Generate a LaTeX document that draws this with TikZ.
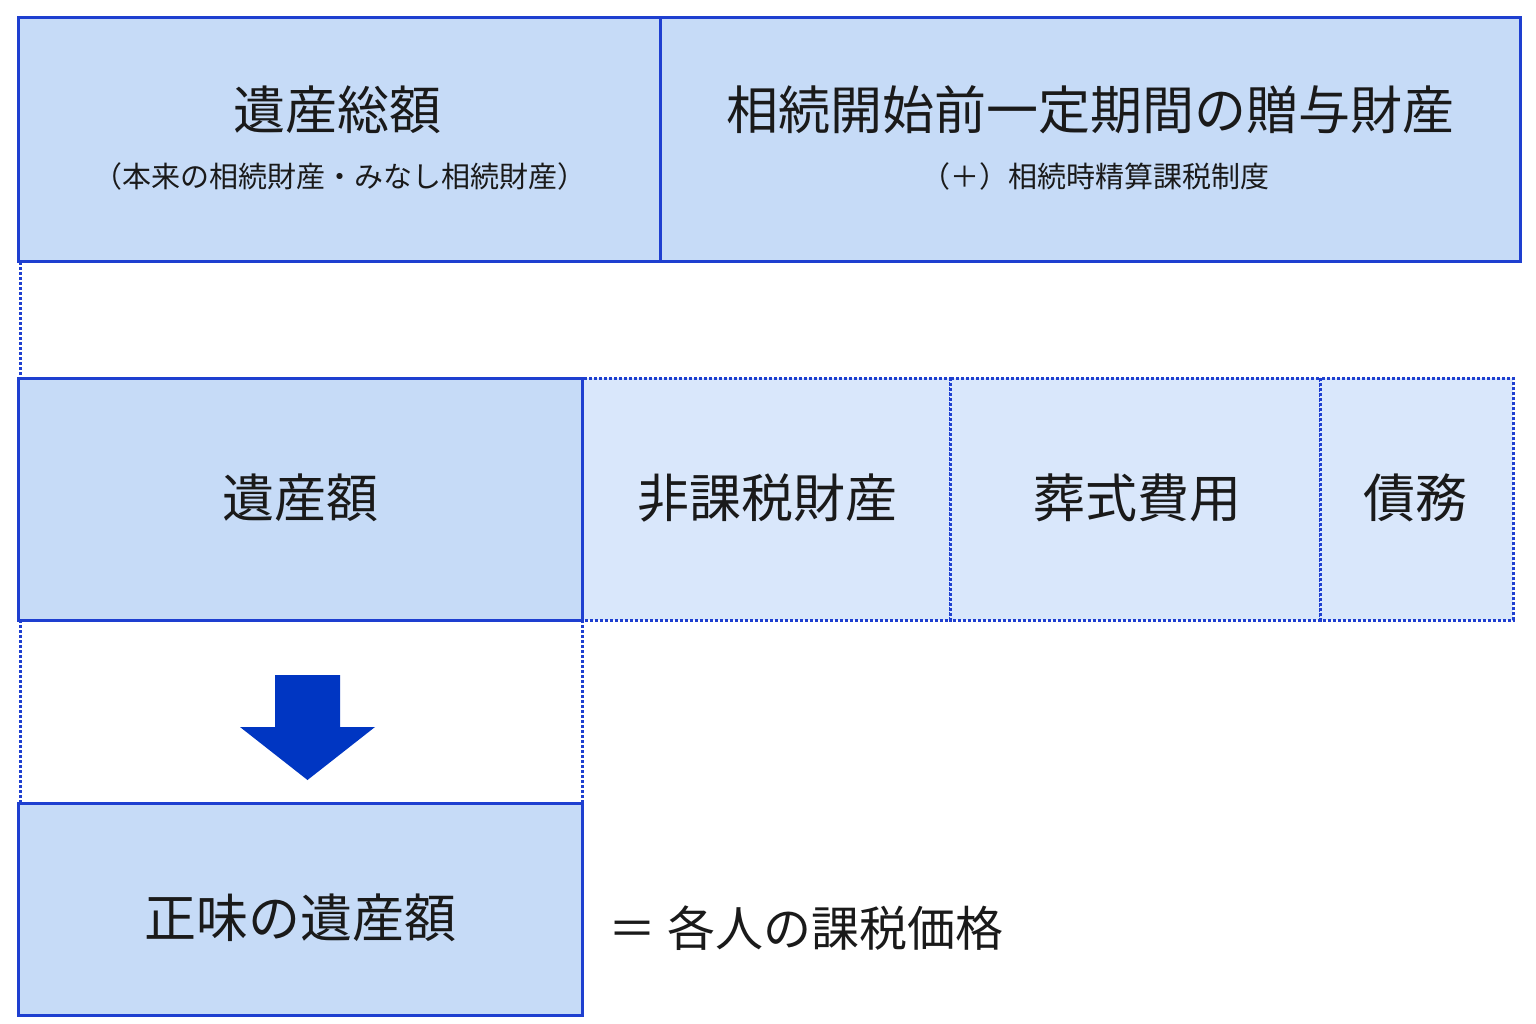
\documentclass[tikz,border=0pt]{standalone}
\usepackage{fontspec}
\setmainfont{Noto Sans CJK JP}
\definecolor{bd}{HTML}{1E3FD0}
\definecolor{fa}{HTML}{C6DBF7}
\definecolor{fb}{HTML}{D9E7FB}
\definecolor{ar}{HTML}{0036C2}
\definecolor{tx}{HTML}{1A1A1A}
\begin{document}
\begin{tikzpicture}[x=1pt,y=-1pt,
  solidbox/.style={draw=bd,line width=3pt,fill=fa},
  dotbox/.style={draw=bd,line width=3pt,dotted,fill=fb},
  dotline/.style={draw=bd,line width=3pt,dotted},
  big/.style={font=\fontsize{52}{60}\selectfont,text=tx},
  small/.style={font=\fontsize{29}{34}\selectfont,text=tx}]
\useasboundingbox[fill=white] (0,0) rectangle (1536,1024);
\draw[solidbox] (18,18) rectangle (660,262);
\draw[solidbox] (660,18) rectangle (1520,262);
\draw[dotline] (20,262) -- (20,378);
\draw[dotbox] (582,378) rectangle (950,620);
\draw[dotbox] (950,378) rectangle (1320,620);
\draw[dotbox] (1320,378) rectangle (1513,620);
\draw[solidbox] (18,378) rectangle (582,620);
\draw[dotline] (20,620) -- (20,803);
\draw[dotline] (582,620) -- (582,803);
\draw[solidbox] (18,803) rectangle (582,1015);
\fill[ar] (275,675) -- (340,675) -- (340,727) -- (375,727) -- (307.5,780) -- (240,727) -- (275,727) -- cycle;
\node[big] (a) at (337,110) {遺産総額};
\node[small] (a2) at (340,176) {（本来の相続財産・みなし相続財産）};
\node[big] (b) at (1090,110) {相続開始前一定期間の贈与財産};
\node[small] (b2) at (1095,176) {（＋）相続時精算課税制度};
\node[big] (c) at (300,498) {遺産額};
\node[big] (d) at (767,498) {非課税財産};
\node[big] (e) at (1137,498) {葬式費用};
\node[big] (f) at (1415,498) {債務};
\node[big] (g) at (300,918) {正味の遺産額};
\node[big,anchor=west,font=\fontsize{48}{56}\selectfont] (h) at (605,928) {＝ 各人の課税価格};
\end{tikzpicture}
\end{document}
